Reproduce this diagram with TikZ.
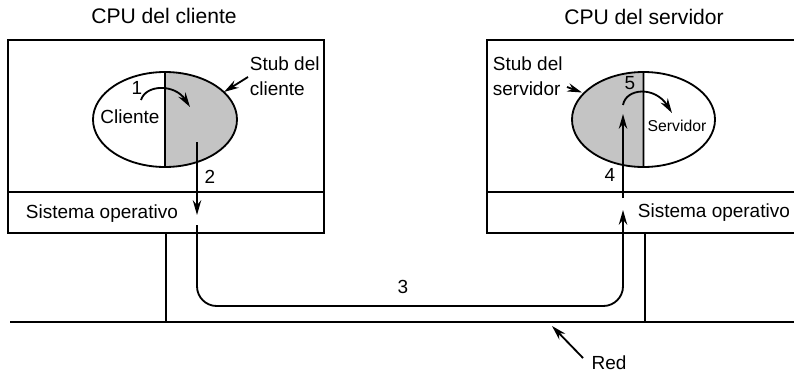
\documentclass[tikz,border=0pt]{standalone}
\usepackage{fontspec}
\setmainfont{Liberation Sans}
\usetikzlibrary{arrows.meta,positioning}
\definecolor{stubgray}{RGB}{196,196,196}

\begin{document}
\begin{tikzpicture}[x=0.025cm,y=-0.025cm,line width=1.3pt,
  lbl/.style={font=\fontsize{13.5}{17.5}\selectfont,inner sep=0pt,align=left},
  ttl/.style={font=\fontsize{15}{18}\selectfont,inner sep=0pt},
  msg/.style={-{Stealth[length=10.5pt,width=6pt]}}]
  \useasboundingbox (0,0) rectangle (794,375);
  % the two machines
  \draw (8,40) rectangle (324,233) (8,192) -- (324,192);
  \draw (794,40) -- (487,40) -- (487,233) -- (794,233) (487,192) -- (794,192);
  \node[ttl] (tcli) at (164,16) {CPU del cliente};
  \node[ttl] (tsrv) at (644,17) {CPU del servidor};
  \node[lbl,anchor=base west] (oscli) at (25,218) {Sistema operativo};
  \node[lbl,anchor=base west] (ossrv) at (637,217) {Sistema operativo};
  % network
  \draw (10,322) -- (794,322) (166,233) -- (166,322) (645,233) -- (645,322);
  % processes with their stubs
  \coordinate (CC) at (165,119.5); \coordinate (SC) at (643.5,119.5);
  \begin{scope} \clip (165,60) rectangle (240,180); \fill[stubgray] (CC) ellipse [x radius=72,y radius=47.5]; \end{scope}
  \begin{scope} \clip (568,60) rectangle (643.5,180); \fill[stubgray] (SC) ellipse [x radius=71.5,y radius=47.5]; \end{scope}
  \draw (CC) ellipse [x radius=72,y radius=47.5] (165,72) -- (165,167);
  \draw (SC) ellipse [x radius=71.5,y radius=47.5] (643.5,72) -- (643.5,167);
  \node[lbl] (cli) at (130,117) {Cliente};
  \node[font=\fontsize{11.2}{13}\selectfont,inner sep=0pt] (srv) at (677,125.5) {Servidor};
  \node[lbl,anchor=west] (stubc) at (249,76) {Stub del\\cliente};
  \node[lbl,anchor=west] (stubs) at (492,76) {Stub del\\servidor};
  \coordinate (sc0) at (248,77); \coordinate (sc1) at (224,92);
  \coordinate (ss0) at (567,87); \coordinate (ss1) at (582,92.5);
  \draw[msg] (sc0) -- (sc1);
  \draw[msg] (ss0) -- (ss1);
  % message steps
  \coordinate (a1) at (141,100); \coordinate (b1) at (190,107);
  \coordinate (a2) at (197,142); \coordinate (b2) at (197,215);
  \coordinate (a3) at (197,225); \coordinate (b3) at (623,210);
  \coordinate (a4) at (623,198); \coordinate (b4) at (623,114);
  \coordinate (a5) at (623,105); \coordinate (b5) at (672,113);
  \draw[msg] (a1) .. controls (146,84) and (175,84) .. (b1);
  \draw[msg] (a2) -- (b2);
  \draw[msg,rounded corners=14pt] (a3) -- (197,306) -- (623,306) -- (b3);
  \draw[msg] (a4) -- (b4);
  \draw[msg] (a5) .. controls (626,88) and (655,86) .. (b5);
  \foreach \k/\x/\y in {1/137/88,2/210/177,3/403/287,4/610/175,5/630/83}
    \node[lbl] (n\k) at (\x,\y) {\k};
  % label of the network
  \node[lbl] (red) at (609,363) {Red};
  \coordinate (r0) at (583,358); \coordinate (r1) at (552,326);
  \draw[msg] (r0) -- (r1);
\end{tikzpicture}
\end{document}
